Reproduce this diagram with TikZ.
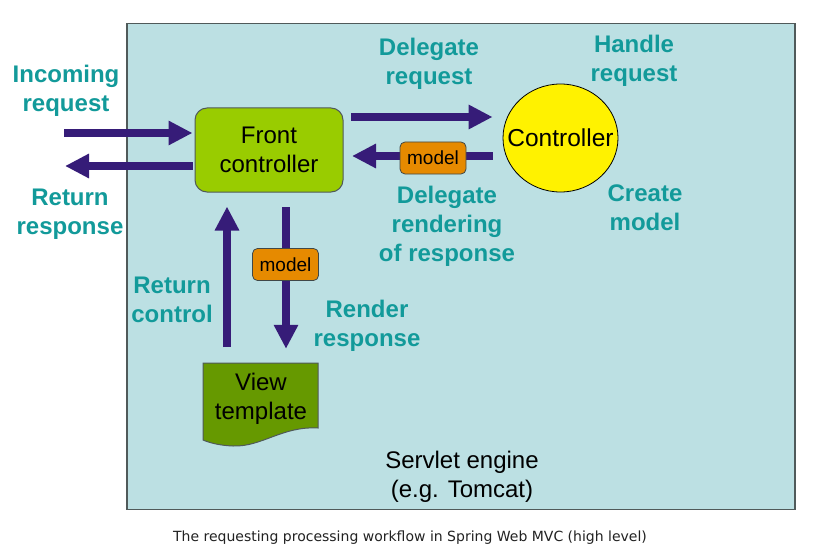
\documentclass[tikz,border=0pt]{standalone}
\usepackage{fontspec}
\setmainfont{Liberation Sans}
\newfontfamily\capfont{DejaVu Sans}
\usetikzlibrary{arrows.meta,shapes.geometric}
\definecolor{bgc}{HTML}{BCE0E3}
\definecolor{bordc}{HTML}{505A5A}
\definecolor{fcc}{HTML}{99CC00}
\definecolor{vtc}{HTML}{669900}
\definecolor{modc}{HTML}{E68A00}
\definecolor{arrc}{HTML}{361C78}
\definecolor{tealc}{HTML}{129A9A}
\definecolor{capc}{HTML}{222222}
\begin{document}
\begin{tikzpicture}[x=1pt,y=-1pt,
  big/.style={line width=7.5pt, draw=arrc, -{Triangle[width=23pt,length=24pt]}},
  lbl/.style={text=tealc, font=\fontsize{24}{29}\selectfont\bfseries, align=center, inner sep=0pt},
  plain/.style={font=\fontsize{24}{28.5}\selectfont, align=center, inner sep=0pt},
  modelbox/.style={draw=bordc!80!black, line width=0.8pt, fill=modc, rounded corners=5pt,
    minimum width=66pt, minimum height=32pt, inner sep=0pt, font=\fontsize{19}{19}\selectfont}]
\useasboundingbox (0,0) rectangle (834,556);
\fill[white] (0,0) rectangle (834,556);
% servlet engine box
\node[draw=bordc, line width=1.6pt, fill=bgc, minimum width=668pt, minimum height=486pt, inner sep=0pt] (eng) at (461,266.5) {};
\node[plain] (engt) at (462,477) {Servlet engine\\(e.g. Tomcat)};
% front controller
\node[draw=bordc, line width=1pt, fill=fcc, rounded corners=12pt, minimum width=148pt, minimum height=84pt, plain] (fc) at (269,150) {Front\\controller};
% controller
\node[ellipse, draw=black, line width=0.8pt, fill=yellow, minimum width=115pt, minimum height=108pt, inner sep=0pt,
  label={[font=\fontsize{24.5}{28}\selectfont, inner sep=0pt]center:Controller}] (ctrl) at (560.5,138) {};
% view template
\fill[vtc, draw=bordc, line width=1pt] (203,363) -- (318,363) -- (318,428)
  .. controls (282,426) and (262,447) .. (233,446)
  .. controls (220,445.5) and (210,443) .. (203,440) -- cycle;
\node[plain, minimum width=115pt, minimum height=72pt] (vt) at (261,399) {View\\template};
% coordinates for free ends
\coordinate (inS) at (64,133);
\coordinate (outE) at (65,166);
\coordinate (dl) at (351,117);
\coordinate (rb) at (352,156);
\coordinate (rc) at (227,347);
\coordinate (rr) at (286,207);
% arrows
\draw[big] (inS) -- ([xshift=-2pt]inS -| fc.west);
\draw[big] ([xshift=-2pt]outE -| fc.west) -- (outE);
\draw[big] (dl) -- ([xshift=-10pt]dl -| ctrl.west);
\draw[big] ([xshift=-10pt]rb -| ctrl.west) -- (rb);
\draw[big] (rc) -- ([yshift=-14pt]rc |- fc.south);
\draw[big] (rr) -- ([yshift=14pt]rr |- vt.north);
% model boxes
\node[modelbox] (m1) at (433,158) {model};
\node[modelbox] (m2) at (285.5,264.5) {model};
% labels
\node[lbl] (l1) at (66,91) {Incoming\\request};
\node[lbl] (l2) at (70,214) {Return\\response};
\node[lbl] (l3) at (429,64) {Delegate\\request};
\node[lbl] (l4) at (634,60.5) {Handle\\request};
\node[lbl] (l5) at (447,226) {Delegate\\rendering\\of response};
\node[lbl] (l6) at (645,208) {Create\\model};
\node[lbl] (l7) at (172,300) {Return\\control};
\node[lbl] (l8) at (367,326) {Render\\response};
% caption
\node[font=\capfont\fontsize{14}{16}\selectfont, text=capc, inner sep=0pt] (cap) at (410,538) {The requesting processing workflow in Spring Web MVC (high level)};
\end{tikzpicture}
\end{document}
